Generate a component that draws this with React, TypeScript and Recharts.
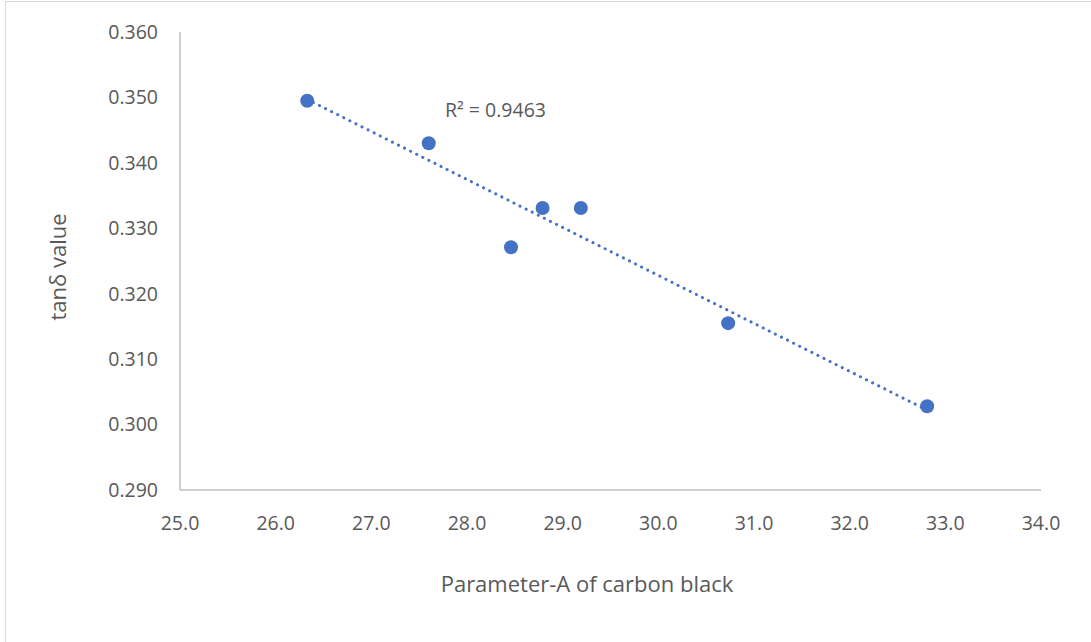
import React from 'react';
import { ComposedChart, Scatter, XAxis, YAxis, ReferenceLine, ReferenceDot, Label } from 'recharts';

const paramA = [26.33, 27.6, 28.46, 28.79, 29.19, 30.73, 32.81];
const tanDelta = [0.3495, 0.343, 0.3271, 0.3331, 0.3331, 0.3155, 0.3028];
const trendX = [26.33, 32.81];
const trendY = [0.3497, 0.3022];
const xTicks = [25, 26, 27, 28, 29, 30, 31, 32, 33, 34];
const yTicks = [0.29, 0.3, 0.31, 0.32, 0.33, 0.34, 0.35, 0.36];
const r2Text = 'R² = 0.9463';
const r2Pos = { x: 27.77, y: 0.3482 };

const points = paramA.map((x, i) => ({ x, y: tanDelta[i] }));
const trendSeg = trendX.map((x, i) => ({ x, y: trendY[i] }));

const FONT = '"Open Sans", "Noto Sans", sans-serif';
const TEXT = '#595959';
const BLUE = '#4472C4';

export default function App() {
  return (
    <div style={{ position: 'absolute', left: 0, top: 0, width: 1091, height: 642, background: '#fff', overflow: 'hidden' }}>
      <div style={{ position: 'absolute', left: 5, top: 1, width: 1200, height: 800, border: '1.5px solid #d9d9d9', boxSizing: 'border-box' }} />
      <div style={{ position: 'absolute', left: 0, top: 0 }}>
        <ComposedChart width={1091} height={642} margin={{ top: 32, right: 50, bottom: 50, left: 0 }} style={{ fontFamily: FONT }}>
          <XAxis
            type="number"
            dataKey="x"
            domain={[25, 34]}
            ticks={xTicks}
            tickFormatter={(v: number) => v.toFixed(1)}
            axisLine={{ stroke: '#bfbfbf', strokeWidth: 1.5 }}
            tickLine={false}
            tick={{ fill: TEXT, fontSize: 19.5, fontFamily: FONT }}
            tickMargin={20}
            height={102}
          >
            <Label
              content={() => (
                <text x={587} y={592} textAnchor="middle" fill={TEXT} fontSize={22} fontFamily={FONT}>
                  Parameter-A of carbon black
                </text>
              )}
            />
          </XAxis>
          <YAxis
            type="number"
            dataKey="y"
            domain={[0.29, 0.36]}
            ticks={yTicks}
            tickFormatter={(v: number) => v.toFixed(3)}
            axisLine={{ stroke: '#bfbfbf', strokeWidth: 1.5 }}
            tickLine={false}
            tick={{ fill: TEXT, fontSize: 19.5, fontFamily: FONT }}
            tickMargin={16}
            width={180}
          >
            <Label
              content={() => {
                const cx = 57;
                const cy = 267;
                return (
                  <text x={cx} y={cy} transform={`rotate(-90, ${cx}, ${cy})`} textAnchor="middle" dominantBaseline="central" fill={TEXT} fontSize={22} fontFamily={FONT}>
                    tanδ value
                  </text>
                );
              }}
            />
          </YAxis>
          <Scatter data={points} fill={BLUE} isAnimationActive={false} shape={(p: any) => <circle cx={p.cx} cy={p.cy} r={7} fill={BLUE} />} />
          <ReferenceLine
            segment={trendSeg}
            stroke={BLUE}
            strokeWidth={3}
            strokeDasharray="0.1 6.7"
            strokeLinecap="round"
            ifOverflow="visible"
          />
          <ReferenceDot
            x={r2Pos.x}
            y={r2Pos.y}
            r={0}
            fill="none"
            stroke="none"
            ifOverflow="visible"
            label={(props: any) => {
              const vb = props.viewBox;
              return (
                <text x={vb.x} y={vb.y} textAnchor="start" dominantBaseline="central" fill={TEXT} fontSize={19.5} fontFamily={FONT}>
                  {r2Text}
                </text>
              );
            }}
          />
        </ComposedChart>
      </div>
    </div>
  );
}
